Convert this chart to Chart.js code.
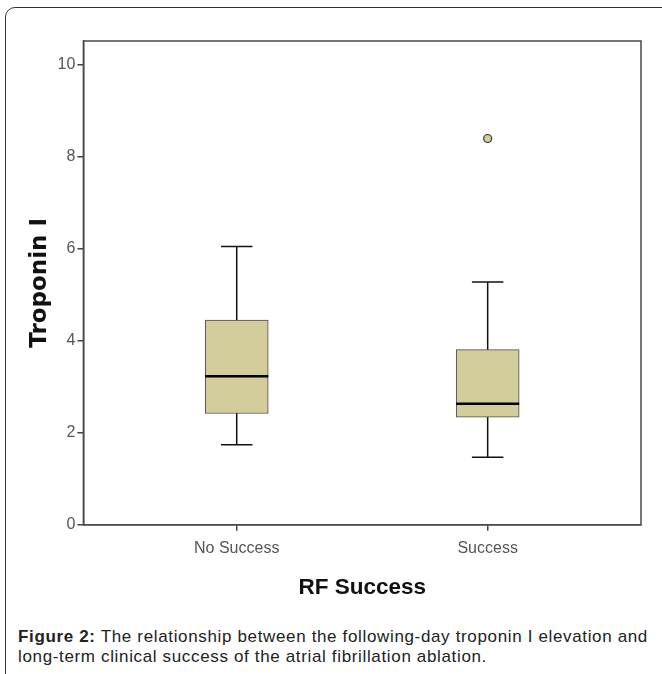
<!DOCTYPE html>
<html>
<head>
<meta charset="utf-8">
<script src="https://cdn.jsdelivr.net/npm/chart.js@4.4.1/dist/chart.umd.min.js"></script>
<style>
html, body { margin: 0; padding: 0; background: #fff; }
#page { position: relative; width: 662px; height: 674px; overflow: hidden; }
#frame { position: absolute; left: 5px; top: 7px; width: 720px; height: 720px;
  border: 1.5px solid #333; border-top-left-radius: 10px; }
#wrap { position: absolute; left: 0; top: 0; width: 662px; height: 620px; }
#caption { position: absolute; left: 18px; top: 627px; width: 660px; white-space: nowrap;
  font-family: "Liberation Sans", Arial, sans-serif; font-size: 17px; letter-spacing: 0.65px;
  line-height: 20px; color: #222; }
</style>
</head>
<body>
<div id="page">
  <div id="frame"></div>
  <div id="wrap"><canvas id="chart"></canvas></div>
  <div id="caption"><b>Figure 2:</b> The relationship between the following-day troponin I elevation and<br>long-term clinical success of the atrial fibrillation ablation.</div>
</div>
<script>
// box plot values
const groups = ['No Success', 'Success'];
const whiskerLow = [1.74, 1.47];
const q1 = [2.42, 2.34];
const median = [3.23, 2.63];
const q3 = [4.45, 3.81];
const whiskerHigh = [6.05, 5.28];
const outliers = [[], [8.40]];
const yTicks = [0, 2, 4, 6, 8, 10];

const boxFill = '#d3cd9c';
const boxWidth = 63;

// whiskers behind the box, median on top
const boxPlotLines = {
    id: 'boxPlotLines',
    beforeDatasetsDraw(chart) {
        const { ctx, scales: { x, y } } = chart;
        ctx.save();
        ctx.strokeStyle = '#111';
        ctx.lineWidth = 1.5;
        groups.forEach((g, i) => {
            const cx = x.getPixelForValue(i);
            const lo = y.getPixelForValue(whiskerLow[i]);
            const hi = y.getPixelForValue(whiskerHigh[i]);
            ctx.beginPath();
            ctx.moveTo(cx, lo);
            ctx.lineTo(cx, hi);
            ctx.moveTo(cx - boxWidth / 4, lo);
            ctx.lineTo(cx + boxWidth / 4, lo);
            ctx.moveTo(cx - boxWidth / 4, hi);
            ctx.lineTo(cx + boxWidth / 4, hi);
            ctx.stroke();
        });
        ctx.restore();
    },
    afterDatasetsDraw(chart) {
        const { ctx, scales: { x, y } } = chart;
        ctx.save();
        ctx.strokeStyle = '#000';
        ctx.lineWidth = 2.5;
        groups.forEach((g, i) => {
            const cx = x.getPixelForValue(i);
            const m = y.getPixelForValue(median[i]);
            ctx.beginPath();
            ctx.moveTo(cx - boxWidth / 2, m);
            ctx.lineTo(cx + boxWidth / 2, m);
            ctx.stroke();
        });
        ctx.restore();
    }
};

// closed frame round the plot area
const plotFrame = {
    id: 'plotFrame',
    afterDraw(chart) {
        const { ctx, chartArea: a } = chart;
        ctx.save();
        ctx.strokeStyle = '#4a4a4a';
        ctx.lineWidth = 1.5;
        ctx.strokeRect(a.left, a.top, a.right - a.left, a.bottom - a.top);
        ctx.restore();
    }
};

const tickFont = { family: 'Liberation Sans', size: 16 };

new Chart(document.getElementById('chart'), {
    type: 'bar',
    data: {
        datasets: [
            {
                type: 'scatter',
                data: outliers.flatMap((vals, i) => vals.map(v => ({ x: i, y: v }))),
                pointRadius: 4,
                pointBackgroundColor: boxFill,
                pointBorderColor: '#333',
                pointBorderWidth: 1.2
            },
            {
                data: groups.map((g, i) => ({ x: i, y: [q1[i], q3[i]] })),
                backgroundColor: boxFill,
                borderColor: '#4d4d4d',
                borderWidth: 1,
                borderSkipped: false,
                barThickness: boxWidth
            }
        ]
    },
    options: {
        responsive: true,
        maintainAspectRatio: false,
        animation: false,
        layout: { padding: { top: 41, right: 21, bottom: 19, left: 26 } },
        plugins: { legend: { display: false }, tooltip: { enabled: false } },
        scales: {
            x: {
                type: 'linear',
                min: -0.611,
                max: 1.611,
                offset: false,
                afterBuildTicks: s => { s.ticks = groups.map((g, i) => ({ value: i })); },
                ticks: { callback: v => groups[v], font: tickFont, color: '#555', padding: 8, maxRotation: 0 },
                grid: { offset: false, drawOnChartArea: false, drawTicks: true, tickLength: 6, color: '#444', lineWidth: 1.5 },
                border: { display: true, color: '#444', width: 1.5 },
                title: {
                    display: true, text: 'RF Success', color: '#111',
                    font: { family: 'Liberation Sans', weight: 'bold', size: 22.5 },
                    padding: { top: 8, bottom: 0 }
                }
            },
            y: {
                min: 0,
                max: 10.52,
                afterBuildTicks: s => { s.ticks = yTicks.map(v => ({ value: v })); },
                ticks: { font: tickFont, color: '#555', padding: 2 },
                grid: { drawOnChartArea: false, drawTicks: true, tickLength: 6, color: '#444', lineWidth: 1.5 },
                border: { display: true, color: '#444', width: 1.5 },
                title: {
                    display: true, text: 'Troponin I', color: '#111',
                    font: { family: 'DejaVu Sans', weight: 'bold', size: 23 },
                    padding: { top: 0, bottom: 2 }
                }
            }
        }
    },
    plugins: [boxPlotLines, plotFrame]
});
</script>
</body>
</html>
